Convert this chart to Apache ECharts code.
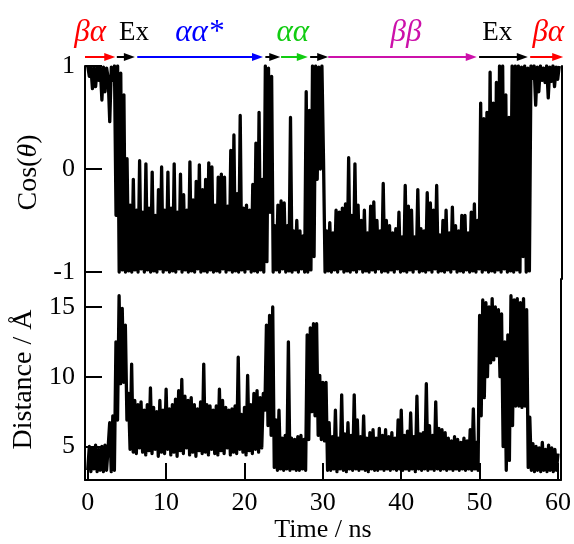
<!DOCTYPE html>
<html>
<head>
<meta charset="utf-8">
<script src="https://cdn.jsdelivr.net/npm/echarts@6/dist/echarts.min.js"></script>
<style>html,body{margin:0;padding:0;background:#fff}#main{width:574px;height:544px}</style>
</head>
<body>
<div id="main"></div>
<script>
// Trajectory frames are saved every 0.2 ns
const timeStep = 0.2;

// Cos(theta), one row per nanosecond (5 frames each), last value at 60 ns
const cosTheta = [
  1.0, 0.9, 0.99, 0.78, 0.98,
  0.8, 0.99, 0.86, 0.98, 0.67,
  0.99, 0.75, 0.98, 0.88, 0.46,
  0.99, 0.86, 1.0, -0.45, 1.0,
  -1.0, 0.93, -0.98, 0.72, -1.0,
  0.1, -0.99, -0.35, -1.0, -0.1,
  -0.98, -0.4, -1.0, 0.08, -0.97,
  -0.42, -1.0, 0.05, -0.98, -0.38,
  -1.0, -0.03, -0.99, -0.45, -1.0,
  -0.2, -0.97, 0.02, -1.0, -0.4,
  -0.98, -0.03, -1.0, -0.38, -0.99,
  0.05, -1.0, -0.42, -0.97, -0.05,
  -1.0, -0.25, -0.98, -0.4, -1.0,
  0.07, -0.99, -0.3, -1.0, -0.12,
  -0.97, 0.04, -1.0, -0.2, -0.99,
  -0.1, -1.0, 0.06, -0.98, 0.02,
  -1.0, -0.35, -0.99, -0.08, -1.0,
  -0.05, -0.97, -0.08, -1.0, -0.36,
  -0.98, 0.18, -1.0, 0.33, -0.99,
  -0.24, -1.0, 0.52, -0.98, -0.38,
  -1.0, -0.35, -0.97, -0.4, -1.0,
  -0.15, -0.99, 0.25, -1.0, 0.55,
  -0.98, -0.1, -1.0, 1.0, -0.9,
  0.98, -0.42, 0.9, -1.0, -0.55,
  -0.98, -0.35, -1.0, -0.31, -0.97,
  -0.33, -1.0, -0.55, -0.99, 0.5,
  -1.0, -0.6, -0.98, -0.5, -1.0,
  -0.6, -0.97, -0.65, -1.0, 0.75,
  -1.0, 0.57, -0.98, 1.0, -0.85,
  1.0, -0.1, 0.99, 0.0, 1.0,
  0.1, -1.0, -0.6, -0.99, -0.52,
  -1.0, -0.62, -0.98, -0.4, -1.0,
  -0.42, -0.97, -0.38, -1.0, -0.34,
  -0.99, 0.11, -1.0, -0.45, -0.98,
  0.05, -1.0, -0.35, -0.97, -0.5,
  -1.0, -0.4, -0.99, -0.62, -1.0,
  -0.36, -0.98, -0.32, -1.0, -0.5,
  -0.97, -0.6, -1.0, -0.14, -0.99,
  -0.5, -1.0, -0.55, -0.98, -0.62,
  -1.0, -0.58, -0.97, -0.42, -1.0,
  -0.66, -0.99, -0.16, -1.0, -0.36,
  -0.98, -0.4, -1.0, -0.66, -0.97,
  -0.2, -1.0, -0.58, -0.99, -0.6,
  -1.0, -0.23, -0.98, -0.33, -1.0,
  -0.4, -0.97, -0.16, -1.0, -0.64,
  -0.99, -0.5, -1.0, -0.4, -0.98,
  -0.62, -1.0, -0.37, -0.97, -0.55,
  -1.0, -0.6, -0.99, -0.45, -1.0,
  -0.45, -0.98, -0.62, -1.0, -0.42,
  -0.99, -0.34, -1.0, -0.5, -0.97,
  0.64, -1.0, 0.49, -0.98, 0.55,
  -1.0, 0.94, -0.99, 0.64, -1.0,
  0.84, -0.98, 1.0, -1.0, 1.0,
  -0.97, 0.72, -1.0, 0.5, -0.99,
  1.0, -1.0, 1.0, -0.98, 1.0,
  -1.0, 0.99, -0.85, 1.0, -1.0,
  0.98, -0.99, 1.0, 0.88, 1.0,
  0.62, 0.99, 0.75, 1.0, 0.86,
  0.98, 0.84, 1.0, 0.69, 0.99,
  0.85, 1.0, 0.8, 0.99, 0.87,
  1.0
];

// Distance in angstrom, same frames
const distance = [
  3.3, 5.0, 3.2, 4.9, 3.4,
  5.1, 3.2, 4.8, 3.3, 5.0,
  3.2, 5.1, 3.3, 4.9, 6.7,
  3.2, 7.2, 3.3, 12.5, 6.9,
  15.8, 9.5, 14.9, 9.6, 13.7,
  6.9, 8.8, 4.8, 10.9, 4.6,
  8.3, 4.5, 8.0, 4.9, 8.2,
  4.6, 7.6, 4.4, 8.0, 4.7,
  9.2, 4.5, 7.8, 4.8, 7.5,
  4.3, 8.3, 4.6, 7.6, 4.5,
  9.1, 4.8, 7.7, 4.4, 8.0,
  4.6, 8.4, 4.3, 9.0, 4.7,
  9.8, 4.5, 8.6, 4.9, 8.3,
  4.4, 8.5, 4.6, 8.0, 4.3,
  7.7, 4.7, 8.2, 4.5, 10.9,
  4.6, 8.0, 4.4, 7.9, 4.8,
  7.6, 4.5, 7.9, 4.4, 9.1,
  4.7, 8.3, 4.5, 7.8, 4.9,
  7.6, 4.4, 7.7, 4.6, 7.9,
  4.5, 11.4, 4.8, 7.3, 4.6,
  7.8, 4.4, 10.1, 4.7, 8.0,
  4.5, 8.8, 4.8, 9.0, 4.6,
  8.5, 4.9, 8.8, 7.6, 13.7,
  6.5, 14.4, 5.8, 15.0, 3.5,
  6.9, 3.3, 7.6, 3.4, 5.6,
  3.3, 5.8, 3.4, 12.5, 3.3,
  5.6, 3.4, 5.5, 3.3, 5.7,
  3.3, 5.8, 3.4, 5.5, 3.3,
  13.0, 5.5, 13.5, 7.5, 13.8,
  7.2, 13.8, 5.8, 10.1, 5.5,
  9.6, 5.4, 9.6, 3.3, 6.7,
  3.3, 5.7, 3.4, 7.6, 3.2,
  5.6, 3.4, 8.7, 3.3, 5.9,
  3.2, 6.7, 3.4, 5.8, 3.3,
  8.7, 3.4, 6.9, 3.3, 5.7,
  3.4, 7.2, 3.3, 5.6, 3.2,
  6.0, 3.4, 6.2, 3.3, 5.6,
  3.3, 6.3, 3.4, 5.8, 3.3,
  6.2, 3.4, 5.7, 3.3, 6.0,
  3.4, 5.6, 3.3, 6.9, 3.4,
  7.6, 3.3, 5.8, 3.4, 6.1,
  3.3, 7.4, 3.4, 5.7, 3.2,
  8.6, 3.4, 5.9, 3.3, 6.0,
  3.4, 9.5, 3.3, 6.5, 3.4,
  5.8, 3.3, 8.2, 3.4, 6.3,
  3.3, 6.2, 3.4, 6.0, 3.3,
  5.6, 3.4, 5.4, 3.3, 5.7,
  3.4, 5.5, 3.3, 5.3, 3.4,
  5.6, 3.3, 5.4, 3.4, 6.2,
  3.3, 7.7, 3.4, 5.3, 3.3,
  14.4, 7.2, 15.5, 8.5, 15.3,
  10.0, 15.0, 11.0, 15.6, 11.2,
  15.0, 11.5, 14.8, 10.0, 14.5,
  5.0, 12.5, 3.3, 13.0, 4.0,
  15.8, 6.5, 15.5, 7.9, 15.6,
  7.9, 15.3, 7.8, 15.6, 7.9,
  14.8, 3.5, 7.1, 3.3, 5.2,
  3.2, 5.0, 3.3, 4.9, 3.2,
  5.3, 3.3, 4.8, 3.2, 5.1,
  3.3, 4.9, 3.2, 4.8, 3.3,
  4.5
];

const timeTicks = [0, 10, 20, 30, 40, 50, 60];
const cosTicks = [-1, 0, 1];
const distTicks = [5, 10, 15];

// Conformational stages along the trajectory (ns)
const stageFrom  = [-0.35, 3.7, 6.3, 22.6, 24.6, 28.3, 30.6, 49.8, 56.3];
const stageTo    = [3.5, 6.0, 22.3, 24.5, 28.0, 30.6, 49.5, 56.0, 60.5];
const stageColor = ['#ff0000', '#000000', '#0000ff', '#000000', '#11cc11', '#000000', '#cc11aa', '#000000', '#ff0000'];
const stageLabel      = ['βα', 'Ex', 'αα*', 'αα', 'ββ', 'Ex', 'βα'];
const stageLabelTime  = [0.3, 5.9, 14.2, 26.1, 40.5, 52.1, 58.6];
const stageLabelColor = ['#ff0000', '#000000', '#0000ff', '#11cc11', '#cc11aa', '#000000', '#ff0000'];
const stageLabelGreek = [true, false, true, true, true, false, true];

const serif = '"Liberation Serif", "Times New Roman", serif';
const toPairs = arr => arr.map((v, i) => [+(i * timeStep).toFixed(1), v]);

const chart = echarts.init(document.getElementById('main'), null, { renderer: 'canvas' });

const frameLine = { show: true, onZero: false, lineStyle: { color: '#000', width: 2 } };
const tickStyle = { color: '#000', width: 2 };
const labelStyle = { color: '#000', fontSize: 26, fontFamily: serif };
const nameStyle = { color: '#000', fontSize: 28, fontFamily: serif };
const traceStyle = { color: '#000', width: 3.3, join: 'round' };

chart.setOption({
  animation: false,
  backgroundColor: '#fff',
  grid: [
    { left: 85, width: 477, top: 66, height: 213 },
    { left: 85, width: 477, top: 279, height: 203 }
  ],
  xAxis: [
    { gridIndex: 0, type: 'value', min: -0.35, max: 60.35, show: false },
    {
      gridIndex: 1, type: 'value', min: -0.35, max: 60.35,
      axisLine: frameLine,
      axisTick: { show: true, inside: true, length: 17, customValues: timeTicks, lineStyle: tickStyle },
      axisLabel: Object.assign({ customValues: timeTicks, margin: 10 }, labelStyle),
      splitLine: { show: false },
      name: 'Time / ns', nameLocation: 'middle', nameGap: 37,
      nameTextStyle: Object.assign({}, labelStyle)
    }
  ],
  yAxis: [
    {
      gridIndex: 0, type: 'value', min: -1.068, max: 1, position: 'left',
      axisLine: frameLine,
      axisTick: { show: true, inside: true, length: 17, customValues: cosTicks, lineStyle: tickStyle },
      axisLabel: Object.assign({ customValues: cosTicks, margin: 10 }, labelStyle),
      splitLine: { show: false },
      name: '{n|Cos(}{i|θ}{n|)}', nameLocation: 'middle', nameGap: 33, nameRotate: 90,
      nameTextStyle: {
        rich: {
          n: Object.assign({}, nameStyle),
          i: Object.assign({ fontStyle: 'italic' }, nameStyle)
        }
      }
    },
    {
      gridIndex: 0, type: 'value', min: -1.068, max: 1, position: 'right',
      axisLine: frameLine, axisTick: { show: false }, axisLabel: { show: false }, splitLine: { show: false }
    },
    {
      gridIndex: 1, type: 'value', min: 2.6, max: 17, position: 'left',
      axisLine: frameLine,
      axisTick: { show: true, inside: true, length: 17, customValues: distTicks, lineStyle: tickStyle },
      axisLabel: Object.assign({ customValues: distTicks, margin: 10 }, labelStyle),
      splitLine: { show: false },
      name: 'Distance / Å', nameLocation: 'middle', nameGap: 33, nameRotate: 90,
      nameTextStyle: Object.assign({}, nameStyle)
    },
    {
      gridIndex: 1, type: 'value', min: 2.6, max: 17, position: 'right',
      axisLine: frameLine, axisTick: { show: false }, axisLabel: { show: false }, splitLine: { show: false }
    }
  ],
  series: [
    {
      type: 'line', xAxisIndex: 0, yAxisIndex: 0, data: toPairs(cosTheta),
      showSymbol: false, symbol: 'none', clip: true, lineStyle: traceStyle
    },
    {
      type: 'line', xAxisIndex: 1, yAxisIndex: 2, data: toPairs(distance),
      showSymbol: false, symbol: 'none', clip: true, lineStyle: traceStyle
    }
  ]
});

// Stage arrows and names above the top panel
const arrowY = 57;
const labelY = 33;
const toX = t => chart.convertToPixel({ xAxisIndex: 0 }, t);
const elements = [];
stageFrom.forEach((t0, i) => {
  const x0 = toX(t0);
  const x1 = toX(stageTo[i]);
  elements.push({
    type: 'line', silent: true,
    shape: { x1: x0, y1: arrowY, x2: x1 - 6, y2: arrowY },
    style: { stroke: stageColor[i], lineWidth: 2 }
  });
  elements.push({
    type: 'polygon', silent: true,
    shape: { points: [[x1, arrowY], [x1 - 11, arrowY - 4], [x1 - 11, arrowY + 4]] },
    style: { fill: stageColor[i] }
  });
});
stageLabel.forEach((s, i) => {
  const greek = stageLabelGreek[i];
  elements.push({
    type: 'text', silent: true,
    x: toX(stageLabelTime[i]), y: labelY,
    style: {
      text: s, fill: stageLabelColor[i],
      fontSize: greek ? 31 : 27, fontFamily: serif, fontStyle: greek ? 'italic' : 'normal',
      align: 'center', verticalAlign: 'middle'
    }
  });
});
chart.setOption({ graphic: elements });
</script>
</body>
</html>
